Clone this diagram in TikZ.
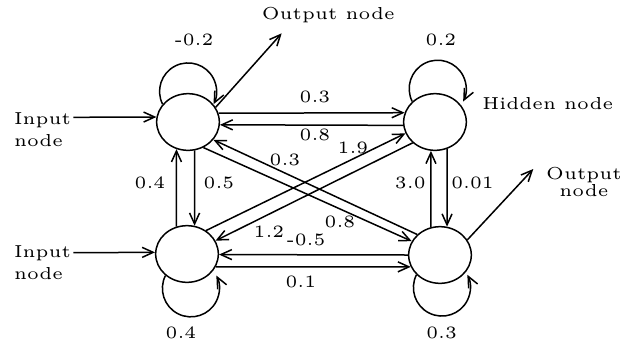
\documentclass[tikz,border=0pt]{standalone}
\usetikzlibrary{arrows.meta,shapes.geometric}
\begin{document}
\begin{tikzpicture}[x=0.3pt,y=0.3pt,
  line width=0.45pt,
  >={Straight Barb[length=3.3pt,width=3pt]},
  neuron/.style={draw,ellipse,minimum width=18.8pt,minimum height=17pt,inner sep=0pt},
  lbl/.style={inner sep=0pt,font=\fontsize{5.2}{6}\selectfont},
  twoline/.style={inner sep=0pt,align=#1},
]
\useasboundingbox (0,0) rectangle (621,344);
% neurons
\node[neuron] (A) at (188,222) {};
\node[neuron] (B) at (435,222) {};
\node[neuron] (C) at (187,90) {};
\node[neuron] (D) at (440,89) {};
% external labels
\node[twoline=left,anchor=west,font=\fontsize{5.2}{6.6}\selectfont] (inA) at (13.3,214.8) {Input\\node};
\node[twoline=left,anchor=west,font=\fontsize{5.2}{6.6}\selectfont] (inC) at (13.3,81.5) {Input\\node};
\node[lbl,anchor=base] (outA) at (328.3,325) {Output node};
\node[twoline=center,font=\fontsize{5.2}{5.2}\selectfont] (outD) at (584,162) {Output\\node};
\node[lbl,anchor=base west] (hid) at (481.7,234.7) {Hidden node};
\coordinate (in1) at (73.3,226.7);
\coordinate (in2) at (73.3,91.3);
\coordinate (o1) at (281.7,310.7);
\coordinate (o2) at (533.3,175);
% inputs / outputs
\draw[->] (in1) -- (A.171.4);
\draw[->] (in2) -- (C.177.4);
\draw[->] (A.28.1) -- (o1);
\draw[->] (D.29.3) -- (o2);
% horizontal
\draw[->] (A.16.2) -- (B.163.8);
\draw[->] (B.-174.5) -- (A.-5.5);
\draw[->] (D.180) -- (C.-1.8);
\draw[->] (C.-24.2) -- (D.202.2);
% vertical
\draw[->] (A.-77.2) -- (C.75.1);
\draw[->] (C.111.1) -- (A.-113.2);
\draw[->] (B.-66) -- (D.76.4);
\draw[->] (D.108.4) -- (B.-98.1);
% diagonals
\draw[->] (D.138.7) -- (A.-35);
\draw[->] (A.-59.8) -- (D.154.2);
\draw[->] (C.51) -- (B.-159.6);
\draw[->] (B.-137.4) -- (C.25);
% self loops
\draw[->] (A.145) arc[start angle=206.7,end angle=-26.7,radius=28.5];
\draw[->] (B.138.7) arc[start angle=206.7,end angle=-26.7,radius=28.5];
\draw[->] (C.225.4) arc[start angle=153.3,end angle=386.7,radius=28.5];
\draw[->] (D.220.7) arc[start angle=153.3,end angle=386.7,radius=28.5];
% weights
\node[lbl] (wAA) at (194,304) {-0.2};
\node[lbl] (wBB) at (441,304) {0.2};
\node[lbl] (wAB) at (315,247) {0.3};
\node[lbl] (wBA) at (315,209) {0.8};
\node[lbl] (wDA) at (285,184) {0.3};
\node[lbl] (wCB) at (353,196) {1.9};
\node[lbl] (wCA) at (150,160.7) {0.4};
\node[lbl] (wAC) at (219,160.7) {0.5};
\node[lbl] (wDB) at (410.3,160.7) {3.0};
\node[lbl] (wBD) at (472.5,160.7) {0.01};
\node[lbl] (wBC) at (269,112.3) {1.2};
\node[lbl] (wDC) at (306,104) {-0.5};
\node[lbl] (wAD) at (340,121.7) {0.8};
\node[lbl] (wCD) at (300.8,62.3) {0.1};
\node[lbl] (wCC) at (181,10.7) {0.4};
\node[lbl] (wDD) at (441.7,10.7) {0.3};
\end{tikzpicture}
\end{document}
